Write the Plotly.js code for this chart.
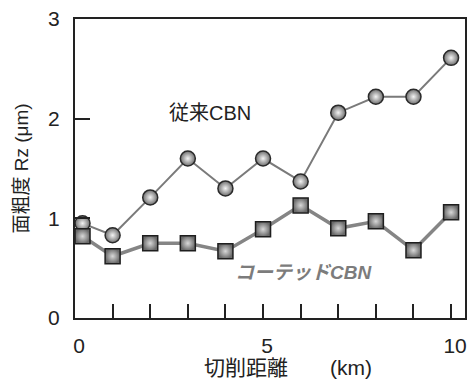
<!DOCTYPE html>
<html>
<head>
<meta charset="utf-8">
<script src="https://cdn.plot.ly/plotly-3.0.1.min.js"></script>
<style>html,body{margin:0;padding:0;background:#fff;}#chart{width:468px;height:381px;}</style>
</head>
<body>
<div id="chart"></div>
<script>
// Data
const distanceKm = [0.2, 1, 2, 3, 4, 5, 6, 7, 8, 9, 10];
const conventionalCBN = [0.95, 0.83, 1.21, 1.60, 1.30, 1.60, 1.37, 2.06, 2.22, 2.22, 2.61];
const coatedCBN = [0.82, 0.62, 0.75, 0.75, 0.67, 0.89, 1.13, 0.90, 0.97, 0.68, 1.06];
const xTickVals = [0, 5, 10];
const xTickText = ['0', '5', '10'];
const yTickVals = [0, 1, 2, 3];
const yTickText = ['0', '1', '2', '3'];
const labelConventional = '従来CBN';
const labelCoated = 'コーテッドCBN';
const xTitle = '切削距離\u3000\u3000(km)';
const yTitle = '面粗度 Rz (μm)';

const FONT = 'Liberation Sans, Arial, Noto Sans CJK JP, sans-serif';

const traces = [
  {
    x: distanceKm, y: conventionalCBN, type: 'scatter', mode: 'lines+markers',
    line: {color: '#7a7a7a', width: 2},
    marker: {symbol: 'circle', size: 15, color: '#6e6e6e',
             gradient: {type: 'radial', color: '#f4f4f4'},
             line: {color: '#2a2a2a', width: 1.5}},
    cliponaxis: false, hoverinfo: 'skip'
  },
  {
    x: distanceKm, y: coatedCBN, type: 'scatter', mode: 'lines+markers',
    line: {color: '#858585', width: 3.5},
    marker: {symbol: 'square', size: 15, color: '#6a6a6a',
             gradient: {type: 'radial', color: '#d8d8d8'},
             line: {color: '#1e1e1e', width: 1.5}},
    cliponaxis: false, hoverinfo: 'skip'
  }
];

const layout = {
  width: 468, height: 381,
  margin: {l: 75, r: 3, t: 19, b: 63, pad: 0},
  paper_bgcolor: '#fff', plot_bgcolor: '#fff',
  showlegend: false,
  font: {family: FONT, size: 20, color: '#222'},
  xaxis: {
    range: [0, 10.37], showgrid: false, zeroline: false,
    showline: true, mirror: true, linecolor: '#222', linewidth: 2,
    tickmode: 'array', tickvals: xTickVals, ticktext: xTickText,
    ticks: 'inside', ticklen: 14, tickwidth: 2, tickcolor: '#222',
    ticklabelstandoff: 8, ticklabelshift: 4,
    minor: {dtick: 1, ticks: 'inside', ticklen: 14, tickwidth: 2, tickcolor: '#222', showgrid: false},
    tickfont: {size: 21, family: FONT, color: '#222'}
  },
  yaxis: {
    range: [0, 3], showgrid: false, zeroline: false,
    showline: true, mirror: true, linecolor: '#222', linewidth: 2,
    tickmode: 'array', tickvals: yTickVals, ticktext: yTickText,
    ticks: 'inside', ticklen: 15, tickwidth: 2, tickcolor: '#222',
    ticklabelstandoff: 9,
    tickfont: {size: 21, family: FONT, color: '#222'},
    title: {text: yTitle, font: {size: 19, family: FONT, color: '#222'}, standoff: 14}
  },
  annotations: [
    {x: 3.6, y: 2.06, xref: 'x', yref: 'y', text: labelConventional, showarrow: false,
     font: {size: 20, family: FONT, color: '#222'}},
    {x: 6.07, y: 0.46, xref: 'x', yref: 'y', text: '<b><i>' + labelCoated + '</i></b>', showarrow: false,
     font: {size: 19, family: FONT, color: '#7c7c7c'}},
    {x: 0.546, y: -0.164, xref: 'paper', yref: 'paper', xanchor: 'center', yanchor: 'middle',
     text: xTitle, showarrow: false,
     font: {size: 21, family: FONT, color: '#222'}}
  ]
};

Plotly.newPlot('chart', traces, layout, {staticPlot: true, displayModeBar: false});
</script>
</body>
</html>
